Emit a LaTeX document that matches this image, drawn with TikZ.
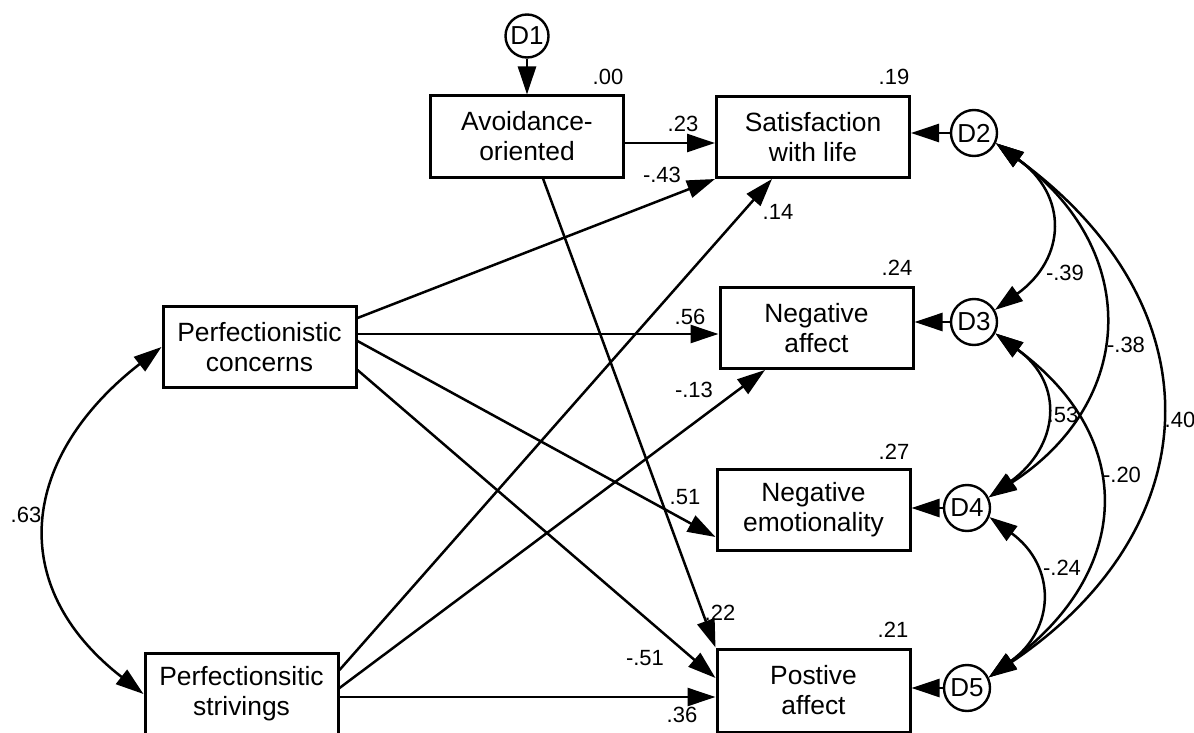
\documentclass[tikz,border=0pt]{standalone}
\usepackage{fontspec}
\setmainfont{Liberation Sans}
\usetikzlibrary{arrows.meta}
\begin{document}
\begin{tikzpicture}[x=0.5pt,y=-0.5pt,
  var/.style={draw,line width=1.5pt,minimum width=96.5pt,minimum height=40.5pt,
    inner sep=0pt,align=center,font=\fontsize{13.2}{15}\selectfont},
  err/.style={draw,circle,line width=1.2pt,minimum size=23pt,inner sep=0pt,
    font=\fontsize{13}{13}\selectfont},
  coef/.style={inner sep=0pt,font=\fontsize{11}{11}\selectfont},
  tip/.tip={Triangle[length=14pt,width=9pt]},
  reg/.style={line width=1.25pt,-tip},
  cov/.style={line width=1.25pt,tip-tip},
]
\useasboundingbox (0,0) rectangle (1194,733);

% variables
\node[var] (av)  at (527,136.5)   {Avoidance-\\oriented};
\node[var] (sat) at (813,137)     {Satisfaction\\with life};
\node[var] (na)  at (816.5,328)   {Negative\\affect};
\node[var] (ne)  at (813.5,510)   {Negative\\emotionality};
\node[var,minimum height=41.5pt] (pa) at (813.5,690.5) {Postive\\affect};
\node[var] (pc)  at (259.5,347)   {Perfectionistic\\concerns};
\node[var] (ps)  at (241.5,694)   {Perfectionsitic\\strivings};

% disturbances
\node[err,minimum size=21.5pt] (d1) at (527,36) {D1};
\node[err] (d2) at (974,133) {D2};
\node[err] (d3) at (974,322) {D3};
\node[err] (d4) at (967,508) {D4};
\node[err] (d5) at (967,688) {D5};

% attachment points on the box edges
\coordinate (avr) at ([yshift=-3.25pt]av.east);
\coordinate (av1) at ([xshift=8pt]av.south);
\coordinate (pc1) at ([yshift=14.5pt]pc.east);
\coordinate (pc2) at ([yshift=6.5pt]pc.east);
\coordinate (pc3) at ([yshift=3pt]pc.east);
\coordinate (pc4) at ([yshift=-11.5pt]pc.east);
\coordinate (ps1) at ([yshift=12pt]ps.east);
\coordinate (ps2) at ([yshift=3pt]ps.east);
\coordinate (ps3) at ([yshift=-1.5pt]ps.east);
\coordinate (sat1) at ([xshift=-20.5pt]sat.south);
\coordinate (na1) at ([xshift=-25.75pt]na.south);
\coordinate (ne1) at ([yshift=-13.5pt]ne.west);
\coordinate (pa1) at ([yshift=6.25pt]pa.west);

% regression paths
\draw[reg] (d1) -- (av);
\draw[reg] (avr) -- (avr -| sat.west);
\draw[reg] (av1) -- (pa.north west);
\draw[reg] (pc1) -- (sat.south west);
\draw[reg] (pc2) -- (pc2 -| na.west);
\draw[reg] (pc3) -- (ne1);
\draw[reg] (pc4) -- (pa1);
\draw[reg] (ps1) -- (sat1);
\draw[reg] (ps2) -- (na1);
\draw[reg] (ps3) -- (ps3 -| pa.west);
\draw[reg] (d2.west) -- (d2.west -| sat.east);
\draw[reg] (d3.west) -- (d3.west -| na.east);
\draw[reg] (d4.west) -- (d4.west -| ne.east);
\draw[reg] (d5.west) -- (d5.west -| pa.east);

% covariances
\draw[cov] (pc.west) .. controls +(-140,109) and +(-140,-109) .. (ps.west);
\draw[cov] (d2.-25) .. controls +(72,52) and +(72,-52) .. (d3.30);
\draw[cov] (d2.-25) .. controls +(147,108) and +(147,-95) .. (d4.26);
\draw[cov] (d2.-25) .. controls +(223,163) and +(223,-150) .. (d5.26);
\draw[cov] (d3.-28) .. controls +(70,51) and +(70,-51) .. (d4.26);
\draw[cov] (d3.-28) .. controls +(143,105) and +(143,-105) .. (d5.26);
\draw[cov] (d4.-22) .. controls +(67,49) and +(67,-49) .. (d5.26);

% coefficients
\node[coef] (r2av)  at (608,77)   {.00};
\node[coef] (r2sat) at (894,77)   {.19};
\node[coef] (r2na)  at (897,268)  {.24};
\node[coef] (r2ne)  at (894,452)  {.27};
\node[coef] (r2pa)  at (893,630)  {.21};
\node[coef] (b1)  at (683,124)  {.23};
\node[coef] (b2)  at (662,175)  {-.43};
\node[coef] (b3)  at (778,212)  {.14};
\node[coef] (b4)  at (690,317)  {.56};
\node[coef] (b5)  at (694,390)  {-.13};
\node[coef] (b6)  at (685,497)  {.51};
\node[coef] (b7)  at (720,613)  {.22};
\node[coef] (b8)  at (645,658)  {-.51};
\node[coef] (b9)  at (682,715)  {.36};
\node[coef] (c1)  at (26,515)   {.63};
\node[coef] (c2)  at (1065,273) {-.39};
\node[coef] (c3)  at (1126,345) {-.38};
\node[coef] (c4)  at (1063,415) {.53};
\node[coef] (c5)  at (1180,420) {.40};
\node[coef] (c6)  at (1122,475) {-.20};
\node[coef] (c7)  at (1062,568) {-.24};
\end{tikzpicture}
\end{document}
